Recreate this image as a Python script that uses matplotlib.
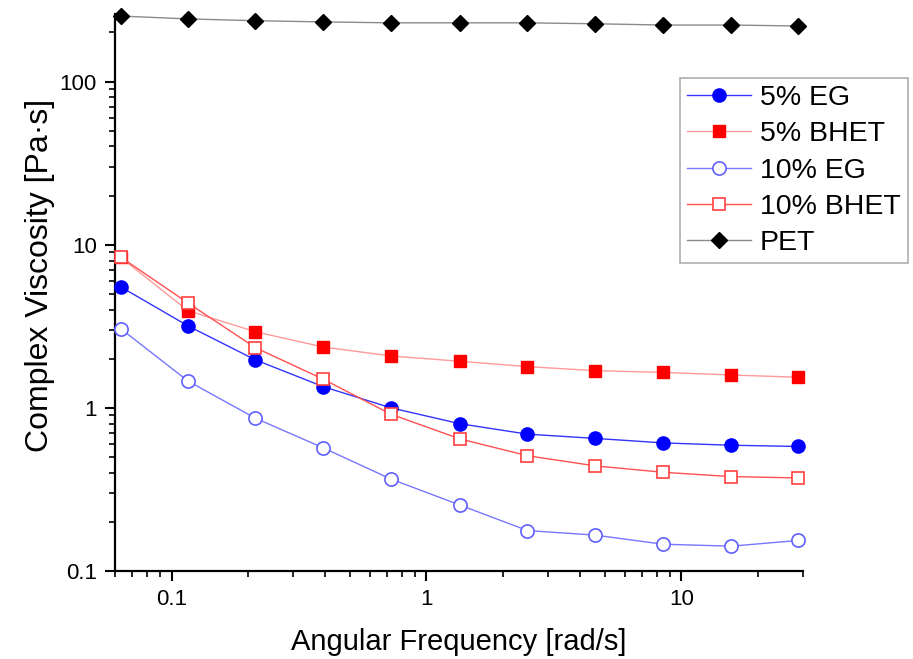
import matplotlib
matplotlib.use("Agg")
import matplotlib.pyplot as plt
from matplotlib.ticker import FuncFormatter, NullFormatter, LogLocator

plt.rcParams["font.family"] = ["Liberation Sans", "DejaVu Sans"]

freq = [0.0631, 0.116, 0.213, 0.393, 0.726, 1.35, 2.49, 4.59, 8.46, 15.7, 28.8]
eg5 = [5.52, 3.18, 1.97, 1.35, 1.00, 0.80, 0.69, 0.65, 0.61, 0.59, 0.58]
bhet5 = [8.35, 3.94, 2.93, 2.36, 2.08, 1.93, 1.79, 1.69, 1.65, 1.59, 1.54]
eg10 = [3.06, 1.46, 0.865, 0.569, 0.366, 0.254, 0.177, 0.166, 0.146, 0.142, 0.154]
bhet10 = [8.4, 4.39, 2.34, 1.50, 0.914, 0.646, 0.509, 0.441, 0.403, 0.379, 0.372]
pet = [252, 242, 236, 232, 229, 229, 229, 226, 222, 222, 219]

fig = plt.figure(figsize=(9.13, 6.59), dpi=100)
ax = fig.add_axes([0.126, 0.1335, 0.7535, 0.8455])

ax.plot(freq, eg5, color="#3333ff", lw=1.0, marker="o", ms=9.5,
        mfc="#0000ff", mec="#0000ff", label="5% EG", clip_on=False, zorder=3)
ax.plot(freq, bhet5, color="#ff9a9a", lw=1.0, marker="s", ms=8,
        mfc="#ff0000", mec="#ff0000", label="5% BHET", clip_on=False, zorder=3)
ax.plot(freq, eg10, color="#7777ff", lw=1.0, marker="o", ms=9.5,
        mfc="white", mec="#6060ff", mew=1.2, label="10% EG", clip_on=False, zorder=4)
ax.plot(freq, bhet10, color="#ff5050", lw=1.0, marker="s", ms=8.5,
        mfc="white", mec="#ff4040", mew=1.2, label="10% BHET", clip_on=False, zorder=4)
ax.plot(freq, pet, color="#8a8a8a", lw=1.0, marker="D", ms=8,
        mfc="black", mec="black", label="PET", clip_on=False, zorder=3)

ax.set_xscale("log")
ax.set_yscale("log")
ax.set_xlim(0.06, 30)
ax.set_ylim(0.1, 260)

fmt = FuncFormatter(lambda v, p: f"{v:g}")
for a in (ax.xaxis, ax.yaxis):
    a.set_major_locator(LogLocator(base=10))
    a.set_minor_locator(LogLocator(base=10, subs=range(2, 10)))
    a.set_major_formatter(fmt)
    a.set_minor_formatter(NullFormatter())

ax.spines["top"].set_visible(False)
ax.spines["right"].set_visible(False)
for s in ("left", "bottom"):
    ax.spines[s].set_linewidth(1.6)
ax.tick_params(which="major", direction="out", length=7, width=1.5,
               labelsize=16, pad=6)
ax.tick_params(which="minor", direction="out", length=4, width=1.2)

ax.set_xlabel("Angular Frequency [rad/s]", fontsize=21, labelpad=13)
ax.set_ylabel("Complex Viscosity [Pa·s]", fontsize=23)
ax.yaxis.set_label_coords(-0.087, 0.53)

leg = ax.legend(loc="upper right", bbox_to_anchor=(0.9945, 0.8816),
                bbox_transform=fig.transFigure, fontsize=20.5, frameon=True,
                fancybox=False, edgecolor="#999999", handlelength=2.25,
                labelspacing=0.36, borderpad=0.25, handletextpad=0.32,
                borderaxespad=0)
leg.get_frame().set_linewidth(1.2)

fig.savefig("out.png", dpi=100)
